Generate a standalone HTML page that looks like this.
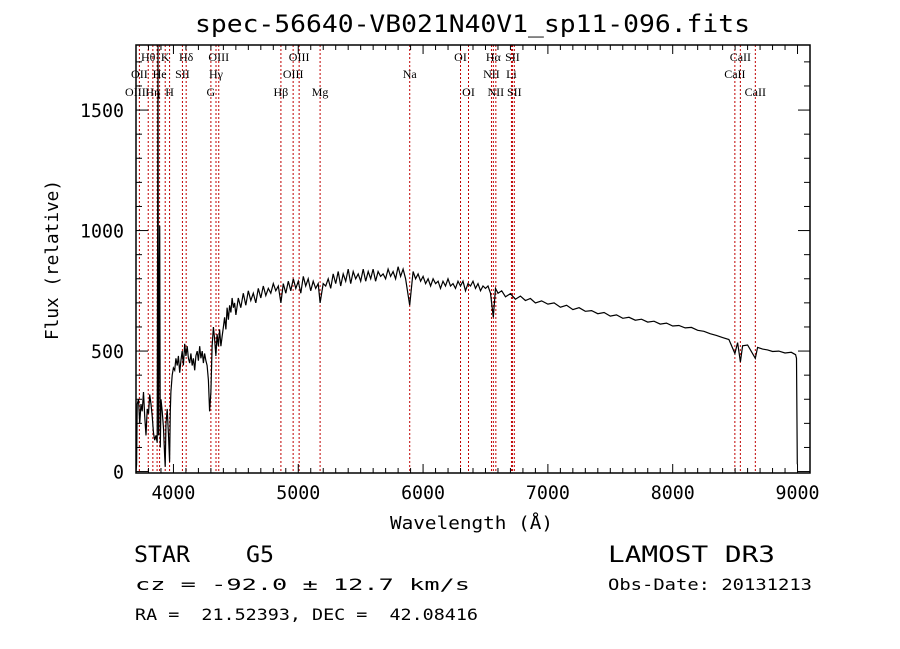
<!DOCTYPE html>
<html><head><meta charset="utf-8"><style>
body{margin:0;background:#fff;}
svg{display:block;}
.t{font-family:"DejaVu Sans Mono","Liberation Mono",monospace;fill:#000;}
.ll{font-family:"Liberation Serif",serif;font-size:12px;fill:#000;text-anchor:middle;}
</style></head><body>
<svg id="chart" width="900" height="649" viewBox="0 0 900 649" xmlns="http://www.w3.org/2000/svg">
<rect width="900" height="649" fill="#fff"/>
<text class="t" x="195" y="32" font-size="24" textLength="555" lengthAdjust="spacingAndGlyphs">spec-56640-VB021N40V1_sp11-096.fits</text>
<g id="lines"></g>
<g id="spec"></g>
<rect x="136" y="45" width="674" height="428" fill="none" stroke="#000" stroke-width="1.5"/>
<g id="axes"></g>
<text class="t" x="390" y="529" font-size="18" textLength="163" lengthAdjust="spacingAndGlyphs">Wavelength (Å)</text>
<text class="t" x="58" y="340" font-size="18" textLength="160" lengthAdjust="spacingAndGlyphs" transform="rotate(-90 58 340)">Flux (relative)</text>
<text class="t" x="134" y="562" font-size="22" textLength="140" lengthAdjust="spacingAndGlyphs" xml:space="preserve">STAR    G5</text>
<text class="t" x="135" y="590" font-size="16" textLength="335" lengthAdjust="spacingAndGlyphs">cz = -92.0 ± 12.7 km/s</text>
<text class="t" x="135" y="620" font-size="16" textLength="343" lengthAdjust="spacingAndGlyphs" xml:space="preserve">RA =  21.52393, DEC =  42.08416</text>
<text class="t" x="608" y="562" font-size="22" textLength="167" lengthAdjust="spacingAndGlyphs">LAMOST DR3</text>
<text class="t" x="608" y="590" font-size="16" textLength="204" lengthAdjust="spacingAndGlyphs">Obs-Date: 20131213</text>
</svg>
<script>
const wl=[3700,3705,3710,3720,3730,3740,3750,3760,3770,3780,3790,3800,3810,3820,3830,3840,3850,3860,3870,3876,3880,3890,3895,3900,3910,3920,3930,3934,3940,3950,3960,3969,3975,3980,3990,4000,4010,4020,4030,4040,4050,4060,4070,4080,4090,4100,4110,4120,4130,4140,4150,4160,4170,4180,4190,4200,4210,4220,4230,4240,4250,4260,4270,4280,4290,4300,4310,4320,4330,4340,4350,4360,4370,4380,4390,4400,4410,4420,4430,4440,4450,4460,4470,4480,4490,4500,
4520,4540,4560,4580,4600,4620,4640,4660,4680,4700,
4720,4740,4760,4780,4800,4820,4840,4861,4880,4900,
4920,4940,4960,4980,5000,5020,5040,5060,5080,5100,
5120,5140,5160,5175,5200,5220,5240,5260,5280,5300,
5320,5340,5360,5380,5400,5420,5440,5460,5480,5500,
5520,5540,5560,5580,5600,5620,5640,5660,5680,5700,
5720,5740,5760,5780,5800,5820,5840,5860,5893,5920,
5940,5960,5980,6000,6020,6040,6060,6080,6100,6120,
6140,6160,6180,6200,6220,6240,6260,6280,6300,6320,
6340,6360,6380,6400,6420,6440,6460,6480,6500,6520,
6540,6563,6580,6600,6630,6660,6700,6740,6780,6820,
6860,6900,6950,7000,7050,7100,7150,7200,7250,7300,
7350,7400,7450,7500,7550,7600,7650,7700,7750,7800,
7850,7900,7950,8000,8050,8100,8150,8200,8250,8300,
8350,8400,8450,8498,8520,8542,8560,8600,8662,8680,
8720,8760,8800,8850,8900,8950,8985,8992,8998];
const flux=[0,30,280,300,200,280,250,330,230,150,260,240,320,280,230,160,130,150,120,1850,150,1020,100,300,250,180,60,20,200,260,150,40,250,330,400,430,420,470,440,480,410,460,500,440,530,480,520,470,450,490,440,470,420,480,500,460,520,470,500,450,490,460,440,380,250,330,520,600,550,480,570,520,590,520,560,600,640,590,680,630,690,660,720,680,700,650,
720,680,740,690,750,710,740,700,760,720,
770,730,760,740,780,750,770,700,780,740,
790,750,800,760,790,740,810,770,800,750,
790,760,780,700,780,770,800,760,820,780,
830,770,820,790,840,780,830,800,820,790,
840,790,830,800,840,790,830,810,820,800,
840,810,830,800,850,810,840,800,690,830,
800,820,790,810,780,800,770,800,780,790,
760,790,770,800,770,780,760,790,770,790,
750,780,770,790,760,780,750,770,760,770,
740,640,760,740,750,725,738,715,728,710,
718,700,708,695,700,682,690,672,680,665,
668,655,660,645,650,636,640,628,632,620,
624,612,616,604,606,596,598,586,582,572,
565,556,548,490,535,455,522,525,470,515,
508,505,498,500,492,495,485,470,30];
const lineWl=[3727,3798,3835,3869,3889,3934,3969,4072,4102,4300,4341,4363,4861,4959,5007,5175,5893,6300,6364,6548,6563,6583,6708,6716,6731,8498,8542,8662];
const labels=[["OII",3727,2],["OIII",3727,3],["Hθ",3798,1],["He",3889,2],["Hη",3835,3],["K",3934,1],["H",3969,3],["SII",4072,2],["Hδ",4102,1],["G",4300,3],["Hγ",4341,2],["OIII",4363,1],["Hβ",4861,3],["OIII",4959,2],["OIII",5007,1],["Mg",5175,3],["Na",5893,2],["OI",6300,1],["OI",6364,3],["NII",6548,2],["Hα",6563,1],["NII",6583,3],["Li",6708,2],["SII",6716,1],["SII",6731,3],["CaII",8498,2],["CaII",8542,1],["CaII",8662,3]];
const xTicks=[4000,5000,6000,7000,8000,9000];
const yTicks=[0,500,1000,1500];
const X0=136,X1=810,Y0=473,Y1=45,WMIN=3700,WMAX=9100,FMIN=-6,FMAX=1770;
const xs=w=>X0+(w-WMIN)/(WMAX-WMIN)*(X1-X0);
const ys=f=>Y0-(f-FMIN)/(FMAX-FMIN)*(Y0-Y1);
const NS="http://www.w3.org/2000/svg";
function mk(t,a){const e=document.createElementNS(NS,t);for(const k in a)e.setAttribute(k,a[k]);return e;}
const lg=document.getElementById('lines');
lineWl.forEach(w=>{const l=mk('line',{x1:xs(w),x2:xs(w),y1:Y1,y2:Y0,stroke:'#c00000','stroke-width':1,'stroke-dasharray':'2,2'});


lg.appendChild(l);});
const rowY={1:61,2:78,3:96};
labels.forEach(([s,w,r])=>{const t=mk('text',{x:xs(w)+(r==3&&s=='OIII'?-4:0),y:rowY[r],class:'ll','font-size':13});t.textContent=s;


lg.appendChild(t);});
const sg=document.getElementById('spec');
const n=Math.min(wl.length,flux.length);
const pts=wl.slice(0,n).map((w,i)=>xs(w).toFixed(1)+','+Math.max(Y1,Math.min(Y0,ys(flux[i]))).toFixed(1)).join(' ');
const pl=mk('polyline',{points:pts,fill:'none',stroke:'#000','stroke-width':1.2});


sg.appendChild(pl);
const ag=document.getElementById('axes');
for(let w=3800;w<=9100;w+=100){const maj=w%1000==0;const L=maj?9:5;
ag.appendChild(mk('line',{x1:xs(w),x2:xs(w),y1:Y0,y2:Y0-L,stroke:'#000'}));
ag.appendChild(mk('line',{x1:xs(w),x2:xs(w),y1:Y1,y2:Y1+L,stroke:'#000'}));}
xTicks.forEach(w=>{const t=mk('text',{x:xs(w)-22,y:Y0+26,class:'t','font-size':19,textLength:44,lengthAdjust:'spacingAndGlyphs'});t.textContent=w;


ag.appendChild(t);});
for(let f=0;f<=1700;f+=100){const maj=f%500==0;const L=maj?12:6;
ag.appendChild(mk('line',{x1:X0,x2:X0+L,y1:ys(f),y2:ys(f),stroke:'#000'}));
ag.appendChild(mk('line',{x1:X1,x2:X1-L,y1:ys(f),y2:ys(f),stroke:'#000'}));}
yTicks.forEach(f=>{const n=String(f).length;const t=mk('text',{x:X0-12-11*n,y:ys(f)+7,class:'t','font-size':19,textLength:11*n,lengthAdjust:'spacingAndGlyphs'});t.textContent=f;


ag.appendChild(t);});
</script>
</body></html>
